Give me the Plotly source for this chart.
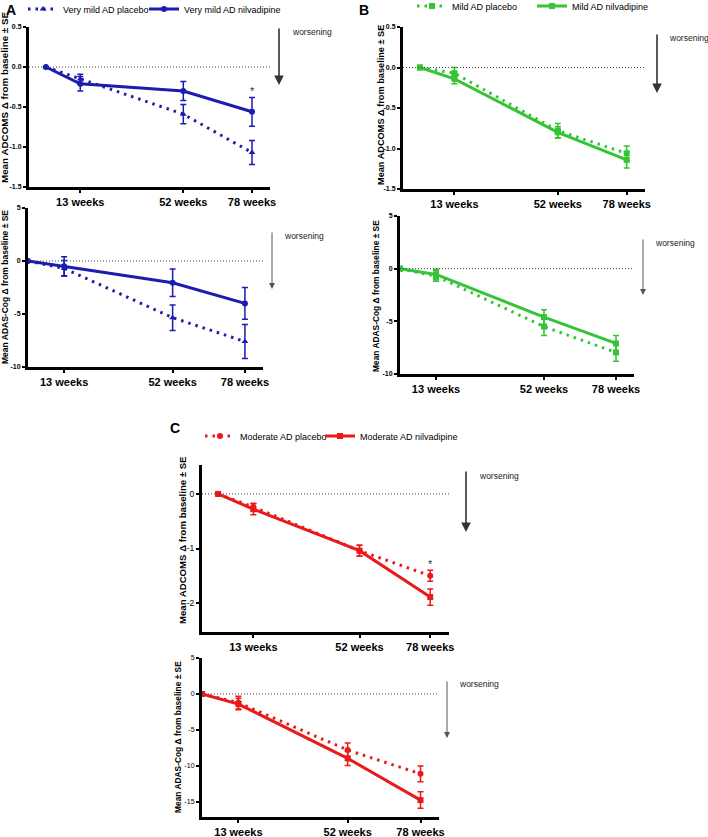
import plotly.graph_objects as go

W, H = 708, 837
FONT = "Liberation Sans"

weeks = [0, 13, 52, 78]
week_labels = ["13 weeks", "52 weeks", "78 weeks"]

# panel A - very mild AD
a_adcoms_placebo = [0, -0.15, -0.59, -1.07]
a_adcoms_placebo_se = [0, 0.06, 0.12, 0.15]
a_adcoms_nilv = [0, -0.21, -0.30, -0.56]
a_adcoms_nilv_se = [0, 0.09, 0.12, 0.18]
a_adas_placebo = [0, -0.7, -5.35, -7.6]
a_adas_placebo_se = [0, 0.75, 1.2, 1.6]
a_adas_nilv = [0, -0.5, -2.05, -4.0]
a_adas_nilv_se = [0, 0.9, 1.3, 1.5]

# panel B - mild AD
b_adcoms_placebo = [0, -0.07, -0.78, -1.06]
b_adcoms_placebo_se = [0, 0.07, 0.09, 0.09]
b_adcoms_nilv = [0, -0.14, -0.80, -1.14]
b_adcoms_nilv_se = [0, 0.06, 0.07, 0.10]
b_adas_placebo = [0, -0.7, -5.5, -7.95]
b_adas_placebo_se = [0, 0.5, 0.85, 0.85]
b_adas_nilv = [0, -0.55, -4.6, -7.1]
b_adas_nilv_se = [0, 0.5, 0.7, 0.75]

# panel C - moderate AD
c_adcoms_placebo = [0, -0.24, -1.04, -1.5]
c_adcoms_placebo_se = [0, 0.07, 0.1, 0.1]
c_adcoms_nilv = [0, -0.28, -1.04, -1.89]
c_adcoms_nilv_se = [0, 0.1, 0.1, 0.15]
c_adas_placebo = [0, -1.2, -7.8, -11.1]
c_adas_placebo_se = [0, 0.9, 1.0, 1.1]
c_adas_nilv = [0, -1.4, -8.95, -14.75]
c_adas_nilv_se = [0, 0.8, 1.0, 1.15]

adcoms_ticks = [0.5, 0, -0.5, -1.0, -1.5]
adcoms_ticktext = ["0.5", "0.0", "-0.5", "-1.0", "-1.5"]
adcoms_c_ticks = [0, -1, -2]
adcoms_c_ticktext = ["0", "-1", "-2"]
adas_ticks = [5, 0, -5, -10]
adas_ticktext = ["5", "0", "-5", "-10"]
adas_c_ticks = [5, 0, -5, -10, -15]
adas_c_ticktext = ["5", "0", "-5", "-10", "-15"]

BLUE = "#1c1cb0"
GREEN = "#35c435"
RED = "#e81a1a"

ADCOMS_TITLE = "Mean ADCOMS \u0394 from baseline \u00b1 SE"
ADAS_TITLE = "Mean ADAS-Cog \u0394 from baseline \u00b1 SE"


def px_x(p):
    return p / W


def px_y(p):
    return 1 - p / H


# each plot: pixel box (left, top, right, bottom), x range, y range, ticks, data
plots = [
    dict(box=(29, 27, 270, 187), xr=[-6.4, 84.8], yr=[-1.5, 0.5],
         tv=adcoms_ticks, tt=adcoms_ticktext, tsize=7, tbold=True,
         title=ADCOMS_TITLE, tsz=9.8, tpos=(5, 98), color=BLUE,
         legends=(("legend", 63, 9), ("legend2", 184, 9)),
         names=["Very mild AD placebo", "Very mild AD nilvadipine"],
         sym=["triangle-up", "circle"],
         pl=a_adcoms_placebo, pls=a_adcoms_placebo_se, nv=a_adcoms_nilv, nvs=a_adcoms_nilv_se,
         arrow=(279, 27, 85), wtext=(290, 32), awidth=1.6, acolor="#333333",
         star=True),
    dict(box=(28, 208, 263, 367), xr=[0, 84.5], yr=[-10, 5],
         tv=adas_ticks, tt=adas_ticktext, tsize=7, tbold=True,
         title=ADAS_TITLE, tsz=8.5, tpos=(5, 287), color=BLUE, legends=None,
         names=["Very mild AD placebo", "Very mild AD nilvadipine"],
         sym=["triangle-up", "circle"],
         pl=a_adas_placebo, pls=a_adas_placebo_se, nv=a_adas_nilv, nvs=a_adas_nilv_se,
         arrow=(272, 231, 289), wtext=(282, 236), awidth=1, acolor="#555555",
         star=False),
    dict(box=(403, 27, 645, 189), xr=[-6.4, 84.9], yr=[-1.5, 0.5],
         tv=adcoms_ticks, tt=adcoms_ticktext, tsize=7, tbold=True,
         title=ADCOMS_TITLE, tsz=9.2, tpos=(381, 105), color=GREEN,
         legends=(("legend3", 452, 6), ("legend4", 572, 6)),
         names=["Mild AD placebo", "Mild AD nilvadipine"],
         sym=["square", "square"],
         pl=b_adcoms_placebo, pls=b_adcoms_placebo_se, nv=b_adcoms_nilv, nvs=b_adcoms_nilv_se,
         arrow=(657, 33, 93), wtext=(667, 38), awidth=1.6, acolor="#333333",
         star=False),
    dict(box=(400, 216, 634, 374), xr=[0, 84.5], yr=[-10, 5],
         tv=adas_ticks, tt=adas_ticktext, tsize=7, tbold=True,
         title=ADAS_TITLE, tsz=8.4, tpos=(376, 296), color=GREEN, legends=None,
         names=["Mild AD placebo", "Mild AD nilvadipine"],
         sym=["square", "square"],
         pl=b_adas_placebo, pls=b_adas_placebo_se, nv=b_adas_nilv, nvs=b_adas_nilv_se,
         arrow=(643, 238, 295), wtext=(653, 243), awidth=1, acolor="#555555",
         star=False),
    dict(box=(202, 465, 449, 632), xr=[-5.9, 84.9], yr=[-2.53, 0.53],
         tv=adcoms_c_ticks, tt=adcoms_c_ticktext, tsize=8.5, tbold=False,
         title=ADCOMS_TITLE, tsz=9.6, tpos=(182, 540), color=RED,
         legends=(("legend5", 240, 436), ("legend6", 360, 436)),
         names=["Moderate AD placebo", "Moderate AD nilvadipine"],
         sym=["circle", "square"],
         pl=c_adcoms_placebo, pls=c_adcoms_placebo_se, nv=c_adcoms_nilv, nvs=c_adcoms_nilv_se,
         arrow=(466, 470, 532), wtext=(477, 476), awidth=1.6, acolor="#333333",
         star=True),
    dict(box=(202, 658, 439, 817), xr=[0, 84.6], yr=[-17.1, 5],
         tv=adas_c_ticks, tt=adas_c_ticktext, tsize=7, tbold=False,
         title=ADAS_TITLE, tsz=8.4, tpos=(178, 737), color=RED, legends=None,
         names=["Moderate AD placebo", "Moderate AD nilvadipine"],
         sym=["circle", "square"],
         pl=c_adas_placebo, pls=c_adas_placebo_se, nv=c_adas_nilv, nvs=c_adas_nilv_se,
         arrow=(447, 680, 738), wtext=(457, 684), awidth=1, acolor="#555555",
         star=False),
]

fig = go.Figure()
layout = {}
annotations = []
shapes = []

legend_style = dict(orientation="h", yanchor="middle", xanchor="left",
                    font=dict(family=FONT, size=9, color="black"),
                    bgcolor="rgba(0,0,0,0)", itemwidth=30)

for i, p in enumerate(plots, start=1):
    xa = "x" if i == 1 else f"x{i}"
    ya = "y" if i == 1 else f"y{i}"
    left, top, right, bottom = p["box"]

    layout["xaxis" if i == 1 else f"xaxis{i}"] = dict(
        domain=[px_x(left), px_x(right)], range=p["xr"], anchor=ya, automargin=False,
        showline=True, linecolor="black", linewidth=3, showgrid=False, zeroline=False,
        tickvals=weeks[1:], ticktext=week_labels, ticks="outside", ticklen=3,
        tickwidth=2, tickcolor="black",
        tickfont=dict(family=FONT, size=11, color="black", weight="bold"),
    )
    layout["yaxis" if i == 1 else f"yaxis{i}"] = dict(
        domain=[px_y(bottom), px_y(top)], range=p["yr"], anchor=xa, automargin=False,
        showline=True, linecolor="black", linewidth=3, showgrid=False, zeroline=False,
        tickvals=p["tv"], ticktext=p["tt"], ticks="outside", ticklen=3,
        tickwidth=2, tickcolor="black",
        tickfont=dict(family=FONT, size=p["tsize"], color="black",
                      weight="bold" if p["tbold"] else "normal"),
    )

    # dotted baseline
    shapes.append(dict(type="line", xref=f"{xa} domain", yref=ya, x0=0, x1=1, y0=0, y1=0,
                       line=dict(color="#444444", width=1, dash="1px,2px")))

    if p["legends"]:
        lgs = [p["legends"][0][0], p["legends"][1][0]]
        for name, tx0, ty0 in p["legends"]:
            layout[name] = dict(x=px_x(tx0 - 40), y=px_y(ty0), **legend_style)
        show = True
    else:
        lgs = ["legend", "legend"]
        show = False

    fig.add_trace(go.Scatter(
        x=weeks, y=p["pl"], name=p["names"][0], xaxis=xa, yaxis=ya,
        mode="lines+markers", showlegend=show, legend=lgs[0],
        line=dict(color=p["color"], width=3, dash="2.5px,5px"),
        marker=dict(symbol=p["sym"][0], size=6, color=p["color"]),
        error_y=dict(type="data", array=p["pls"], color=p["color"], thickness=1.5, width=3),
    ))
    fig.add_trace(go.Scatter(
        x=weeks, y=p["nv"], name=p["names"][1], xaxis=xa, yaxis=ya,
        mode="lines+markers", showlegend=show, legend=lgs[1],
        line=dict(color=p["color"], width=3),
        marker=dict(symbol=p["sym"][1], size=6, color=p["color"]),
        error_y=dict(type="data", array=p["nvs"], color=p["color"], thickness=1.5, width=3),
    ))

    if p["star"]:
        annotations.append(dict(
            x=weeks[3], y=max(p["pl"][3] + p["pls"][3], p["nv"][3] + p["nvs"][3]),
            xref=xa, yref=ya, text="*", showarrow=False, yanchor="bottom", yshift=-2,
            font=dict(family=FONT, size=11, color="#333333")))

    # y-axis title
    tx, ty = p["tpos"]
    annotations.append(dict(
        x=px_x(tx), y=px_y(ty), xref="paper", yref="paper", text=p["title"],
        textangle=-90, showarrow=False, xanchor="center", yanchor="middle",
        font=dict(family=FONT, size=p["tsz"], color="black", weight="bold")))

    # worsening arrow
    ax_, ay0, ay1 = p["arrow"]
    annotations.append(dict(
        x=px_x(ax_), y=px_y(ay1), xref="paper", yref="paper", ax=0, ay=-(ay1 - ay0),
        text="", showarrow=True, arrowhead=2, arrowsize=1.2, arrowwidth=p["awidth"],
        arrowcolor=p["acolor"]))
    wx, wy = p["wtext"]
    annotations.append(dict(
        x=px_x(wx), y=px_y(wy), xref="paper", yref="paper", text="worsening",
        showarrow=False, xanchor="left", yanchor="middle",
        font=dict(family=FONT, size=8.5, color="#222222")))

# panel letters
for letter, (lx, ly) in {"A": (4, 10), "B": (357, 10), "C": (168, 428)}.items():
    annotations.append(dict(
        x=px_x(lx), y=px_y(ly), xref="paper", yref="paper", text=letter,
        showarrow=False, xanchor="left", yanchor="middle",
        font=dict(family=FONT, size=14, color="black", weight="bold")))

fig.update_layout(
    **layout,
    width=W, height=H,
    margin=dict(l=0, r=0, t=0, b=0, autoexpand=False),
    paper_bgcolor="white", plot_bgcolor="white",
    annotations=annotations, shapes=shapes,
)

# drop the browser's default 8px body margin so the figure fills the window
fig.write_html("out.html", config={"displayModeBar": False},
               post_script="document.body.style.margin = '0';")
